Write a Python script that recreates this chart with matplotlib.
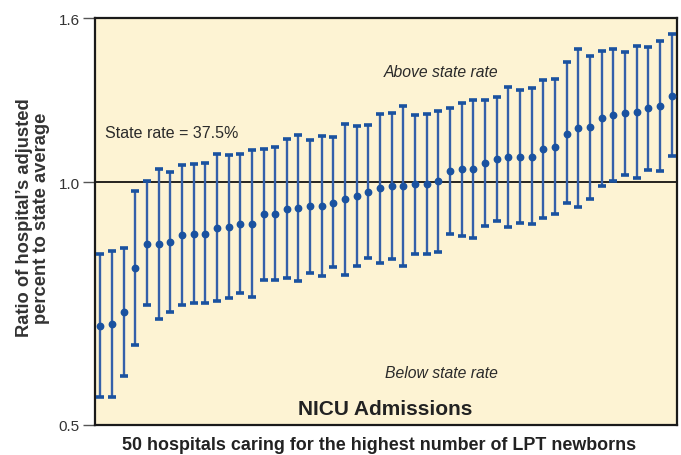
import numpy as np
import matplotlib
matplotlib.use("Agg")
import matplotlib.pyplot as plt
from matplotlib.ticker import FixedLocator, NullLocator

plt.rcParams['font.family'] = ['Liberation Sans', 'DejaVu Sans']

# Hospital ratios (adjusted percent / state average), sorted by point estimate
ratio = [0.664, 0.668, 0.690, 0.783, 0.838, 0.839, 0.843, 0.860, 0.863, 0.864,
         0.879, 0.880, 0.889, 0.889, 0.913, 0.913, 0.928, 0.930, 0.934, 0.934,
         0.944, 0.953, 0.962, 0.974, 0.983, 0.990, 0.990, 0.995, 0.995, 1.003,
         1.032, 1.038, 1.039, 1.057, 1.069, 1.076, 1.076, 1.077, 1.100, 1.108,
         1.150, 1.167, 1.171, 1.201, 1.212, 1.218, 1.222, 1.236, 1.244, 1.282]
upper = [0.815, 0.822, 0.830, 0.977, 1.003, 1.039, 1.030, 1.052, 1.055, 1.056,
         1.085, 1.082, 1.084, 1.098, 1.101, 1.106, 1.133, 1.145, 1.130, 1.141,
         1.139, 1.182, 1.174, 1.177, 1.215, 1.219, 1.245, 1.211, 1.215, 1.226,
         1.237, 1.254, 1.264, 1.266, 1.275, 1.315, 1.302, 1.310, 1.340, 1.346,
         1.409, 1.464, 1.437, 1.456, 1.463, 1.452, 1.476, 1.471, 1.499, 1.528]
lower = [0.541, 0.541, 0.575, 0.628, 0.704, 0.677, 0.690, 0.705, 0.708, 0.708,
         0.712, 0.718, 0.729, 0.721, 0.757, 0.757, 0.760, 0.755, 0.773, 0.766,
         0.785, 0.768, 0.788, 0.806, 0.795, 0.803, 0.788, 0.816, 0.814, 0.819,
         0.862, 0.859, 0.854, 0.883, 0.897, 0.881, 0.891, 0.887, 0.903, 0.913,
         0.943, 0.931, 0.955, 0.991, 1.005, 1.023, 1.012, 1.037, 1.032, 1.078]
ytick_vals = [0.5, 1.0, 1.6]
ytick_labels = ["0.5", "1.0", "1.6"]

ratio = np.array(ratio)
upper = np.array(upper)
lower = np.array(lower)
x = np.arange(1, len(ratio) + 1)

blue = "#1a52a0"
stem_blue = "#3560aa"
bg = "#fdf3d3"

fig = plt.figure(figsize=(6.81, 4.56), dpi=100)
ax = fig.add_axes([0.1395, 0.0658, 0.8545, 0.8925])
ax.set_facecolor(bg)

# confidence interval stems, then caps and point estimates on top
ax.vlines(x, lower, upper, color=stem_blue, linewidth=1.7, zorder=3)
ax.errorbar(x, ratio, yerr=[ratio - lower, upper - ratio], fmt='o',
            color=blue, ecolor=blue, elinewidth=0, capsize=2.6,
            capthick=2.6, markersize=4.6, zorder=4)

ax.axhline(1.0, color="black", linewidth=1.2, zorder=2)

ax.set_yscale('log')
ax.set_ylim(0.5, 1.6)
ax.set_xlim(0.545, 50.46)
ax.yaxis.set_major_locator(FixedLocator(ytick_vals))
ax.yaxis.set_minor_locator(NullLocator())
ax.set_yticklabels(ytick_labels)
ax.set_xticks([])
ax.tick_params(axis='y', direction='out', length=9, width=1.0,
               labelsize=11, colors="#555555", pad=2)
for lab in ax.get_yticklabels():
    lab.set_color("#333333")

for s in ax.spines.values():
    s.set_linewidth(1.6)
    s.set_color("#1a1a1a")

fig.text(105 / 681, 1 - 133 / 456, "State rate = 37.5%", fontsize=11.5,
         color="#2a2a2a", va='center', ha='left')
ax.text(0.595, 0.868, "Above state rate", transform=ax.transAxes,
        fontsize=11.3, style='italic', color="#2a2a2a", ha='center', va='center')
ax.text(0.595, 0.128, "Below state rate", transform=ax.transAxes,
        fontsize=11.3, style='italic', color="#2a2a2a", ha='center', va='center')
ax.text(0.498, 0.04, "NICU Admissions", transform=ax.transAxes,
        fontsize=15, fontweight='bold', color="#222222", ha='center', va='center')

fig.text(0.556, 0.024, "50 hospitals caring for the highest number of LPT newborns",
         fontsize=12.9, fontweight='bold', color="#222222", ha='center', va='center')
fig.text(0.048, 0.522, "Ratio of hospital\u2019s adjusted\npercent to state average",
         rotation=90, fontsize=13.2, fontweight='bold', color="#333333",
         ha='center', va='center', linespacing=1.0)

fig.savefig("out.png", dpi=100)
